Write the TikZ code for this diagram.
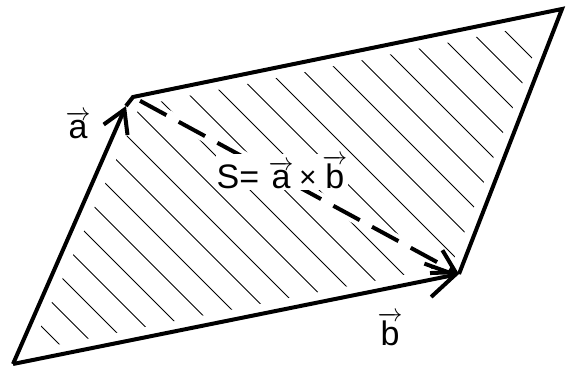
\documentclass[tikz,border=0pt]{standalone}
\usepackage{fontspec}
\setmainfont{Liberation Sans}
\usetikzlibrary{arrows.meta}

\newcommand{\vecl}[1]{$\overrightarrow{\mbox{#1}}$}

\begin{document}
\begin{tikzpicture}[x=1pt, y=-1pt,
  edge/.style={line width=4pt, line join=miter},
  hatch/.style={line width=0.8pt},
  barb/.style={-{Straight Barb[length=22pt,width=26pt,line width=4pt]}},
  lbl/.style={font=\fontsize{34}{40}\selectfont, inner sep=1pt}]
  \useasboundingbox (0,0) rectangle (566,370);

  % corners of the parallelogram
  \coordinate (O) at (13,364);
  \coordinate (A) at (126,106);
  \coordinate (K) at (133,97);
  \coordinate (C) at (562,9);
  \coordinate (B) at (459,274);

  % hatching, kept off the border
  \begin{scope}
    \clip (O) -- (K) -- (C) -- (B) -- cycle;
    \foreach \c in {0,...,22}
      \draw[hatch] ({-285+34.5*\c-30},-30) -- ({-285+34.5*\c+420},420);
  \end{scope}
  \draw[white, line width=20pt] (O) -- (K) -- (C) -- (B) -- cycle;
  \draw[white, line width=12pt] (K) -- (B);

  % sides and vectors
  \draw[edge] (A) -- (K) -- (C) -- (B);
  \draw[edge, barb] (O) -- (A);
  \draw[edge, -{Straight Barb[length=28pt,width=34pt,line width=4pt]}] (O) -- (B);
  \draw[edge, dash pattern=on 30pt off 14pt, barb, shorten <=8pt] (K) -- (B);

  % labels
  \node[lbl, fill=white] (S) at (282,172) {S=~\vecl{a}\,{\fontsize{30}{30}\selectfont\raisebox{1pt}{×}}\,\vecl{b}};
  \node[lbl] (la) at (78,125) {\vecl{a}};
  \node[lbl] (lb) at (390,329) {\vecl{b}};
\end{tikzpicture}
\end{document}
